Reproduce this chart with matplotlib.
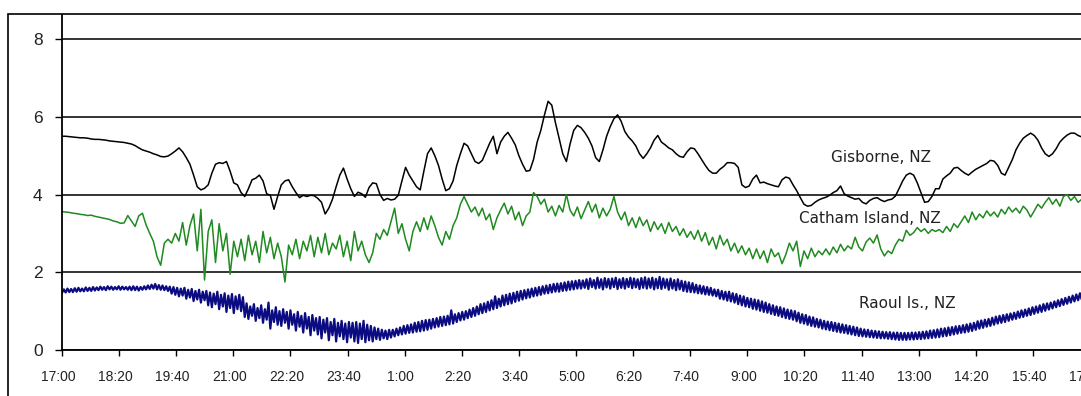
import numpy as np
import matplotlib.pyplot as plt
from matplotlib.patches import Rectangle
from matplotlib.transforms import ScaledTranslation

# sea level records (m), one sample every 5.12 min from 17:00
step_min = 5.12

gisborne = [
    5.50, 5.50, 5.49, 5.48, 5.47, 5.46, 5.46, 5.45, 5.43, 5.42,
    5.42, 5.41, 5.40, 5.38, 5.37, 5.36, 5.35, 5.34, 5.32, 5.30,
    5.26, 5.20, 5.15, 5.12, 5.09, 5.05, 5.02, 4.98, 4.97, 4.99,
    5.05, 5.12, 5.20, 5.10, 4.95, 4.78, 4.50, 4.20, 4.12, 4.16,
    4.25, 4.55, 4.78, 4.82, 4.80, 4.85, 4.60, 4.30, 4.25, 4.05,
    3.95, 4.15, 4.38, 4.42, 4.50, 4.35, 4.02, 3.98, 3.62, 3.95,
    4.25, 4.35, 4.38, 4.20, 4.05, 3.92, 3.98, 3.95, 3.98, 3.97,
    3.90, 3.80, 3.50, 3.65, 3.88, 4.20, 4.50, 4.68, 4.40, 4.15,
    3.95, 4.06, 4.02, 3.93, 4.18, 4.30, 4.28, 4.00, 3.85, 3.90,
    3.86, 3.88, 3.98, 4.35, 4.70, 4.50, 4.35, 4.20, 4.12, 4.60,
    5.05, 5.20, 5.00, 4.75, 4.40, 4.10, 4.15, 4.35, 4.75, 5.05,
    5.32, 5.25, 5.05, 4.85, 4.80, 4.88, 5.10, 5.32, 5.50, 5.05,
    5.35, 5.50, 5.60, 5.45, 5.28, 5.00, 4.78, 4.60, 4.62, 4.90,
    5.35, 5.65, 6.05, 6.40, 6.30, 5.85, 5.45, 5.05, 4.85, 5.30,
    5.65, 5.78, 5.72, 5.60, 5.45, 5.25, 4.95, 4.85, 5.15, 5.50,
    5.75, 5.95, 6.05, 5.88, 5.62, 5.48, 5.38, 5.25, 5.05, 4.93,
    5.05, 5.20, 5.40, 5.52, 5.35, 5.28, 5.20, 5.15, 5.05, 4.98,
    4.96, 5.10, 5.20, 5.18, 5.05, 4.90, 4.75, 4.62, 4.55, 4.55,
    4.65, 4.72, 4.82, 4.82, 4.80, 4.70, 4.25, 4.18, 4.22, 4.40,
    4.50, 4.30, 4.32, 4.28, 4.25, 4.22, 4.20, 4.38, 4.45, 4.42,
    4.25, 4.10, 3.92, 3.75, 3.70, 3.72, 3.80, 3.86, 3.90, 3.93,
    3.98, 4.05, 4.10, 4.22, 4.02, 3.96, 3.92, 3.88, 3.90, 3.80,
    3.76, 3.85, 3.90, 3.92, 3.86, 3.82, 3.86, 3.88, 3.96, 4.15,
    4.35, 4.50, 4.55, 4.50, 4.30, 4.05, 3.80, 3.82, 3.95, 4.15,
    4.15, 4.40, 4.48, 4.55, 4.68, 4.70, 4.62, 4.55, 4.50, 4.58,
    4.65, 4.70, 4.75, 4.80, 4.88, 4.86, 4.75, 4.55, 4.50, 4.70,
    4.90, 5.15, 5.32, 5.45, 5.52, 5.58, 5.52, 5.40, 5.20, 5.05,
    4.98, 5.05, 5.18, 5.35, 5.45, 5.53, 5.58, 5.58, 5.52, 5.48,
    5.45,
]

chatham = [
    3.56, 3.55, 3.54, 3.52, 3.51, 3.49, 3.48, 3.46, 3.47, 3.44,
    3.42, 3.40, 3.38, 3.36, 3.32, 3.30, 3.26, 3.27, 3.46, 3.32,
    3.18, 3.45, 3.52, 3.22, 3.00, 2.80, 2.40, 2.18, 2.75, 2.85,
    2.75, 3.00, 2.80, 3.28, 2.70, 3.20, 3.50, 2.55, 3.62, 1.80,
    3.05, 3.35, 2.25, 3.25, 2.55, 3.00, 1.95, 2.80, 2.40, 2.85,
    2.30, 2.95, 2.45, 2.80, 2.25, 3.05, 2.50, 2.90, 2.35, 2.75,
    2.40, 1.75, 2.70, 2.45, 2.85, 2.35, 2.80, 2.55, 2.95, 2.40,
    2.90, 2.50, 3.00, 2.45, 2.75, 2.60, 2.95, 2.40, 2.80, 2.30,
    3.05, 2.55, 2.80, 2.45, 2.25, 2.50, 3.00, 2.85, 3.10, 2.95,
    3.30, 3.65, 3.00, 3.25, 2.85, 2.55, 3.05, 3.30, 3.05, 3.40,
    3.10, 3.45, 3.20, 2.90, 2.70, 3.05, 2.85, 3.20, 3.40, 3.75,
    3.95, 3.75, 3.55, 3.68, 3.45, 3.65, 3.35, 3.50, 3.10, 3.40,
    3.60, 3.78, 3.50, 3.70, 3.35, 3.55, 3.20, 3.45, 3.55, 4.05,
    3.95, 3.75, 3.88, 3.55, 3.70, 3.45, 3.72, 3.55, 4.00, 3.60,
    3.45, 3.68, 3.38, 3.60, 3.82, 3.55, 3.75, 3.40, 3.65, 3.45,
    3.62, 3.95, 3.55, 3.35, 3.55, 3.20, 3.40, 3.15, 3.42, 3.20,
    3.35, 3.05, 3.30, 3.10, 3.25, 3.00, 3.28, 3.05, 3.18, 2.95,
    3.12, 2.90, 3.05, 2.85, 3.08, 2.80, 3.02, 2.70, 2.90, 2.60,
    2.95, 2.70, 2.85, 2.55, 2.75, 2.50, 2.68, 2.45, 2.62, 2.35,
    2.60, 2.35, 2.55, 2.25, 2.60, 2.40, 2.50, 2.22, 2.45, 2.75,
    2.55, 2.80, 2.15, 2.55, 2.35, 2.62, 2.40, 2.55, 2.45, 2.60,
    2.45, 2.65, 2.50, 2.72, 2.55, 2.68, 2.60, 2.90, 2.65, 2.55,
    2.78, 2.88, 2.75, 2.96, 2.60, 2.42, 2.55, 2.48, 2.70, 2.85,
    2.80, 3.08, 2.95, 3.02, 3.15, 3.05, 3.12, 3.00, 3.10, 3.05,
    3.10, 3.02, 3.18, 3.05, 3.25, 3.15, 3.30, 3.45, 3.28, 3.55,
    3.35, 3.50, 3.40, 3.58, 3.45, 3.55, 3.42, 3.62, 3.50, 3.68,
    3.55, 3.65, 3.52, 3.70, 3.60, 3.42, 3.58, 3.75, 3.65, 3.80,
    3.92, 3.75, 3.88, 3.70, 3.95, 4.00, 3.85, 3.95, 3.80, 3.88,
    3.85,
]

# Raoul Is. is noisy: low / high reading inside each sample window
raoul_lo = [
    1.47, 1.48, 1.49, 1.49, 1.50, 1.51, 1.51, 1.52, 1.52, 1.53,
    1.54, 1.55, 1.54, 1.56, 1.55, 1.56, 1.55, 1.56, 1.55, 1.54,
    1.54, 1.53, 1.55, 1.56, 1.57, 1.58, 1.56, 1.55, 1.54, 1.52,
    1.45, 1.42, 1.38, 1.40, 1.32, 1.35, 1.26, 1.30, 1.22, 1.28,
    1.15, 1.10, 1.18, 1.05, 1.12, 0.98, 1.08, 0.95, 1.05, 1.00,
    0.85, 0.80, 0.88, 0.75, 0.82, 0.70, 0.78, 0.55, 0.72, 0.65,
    0.62, 0.70, 0.55, 0.65, 0.50, 0.60, 0.45, 0.55, 0.38, 0.50,
    0.40, 0.30, 0.45, 0.25, 0.38, 0.22, 0.35, 0.28, 0.20, 0.32,
    0.22, 0.18, 0.28, 0.20, 0.25, 0.22, 0.28, 0.26, 0.30, 0.28,
    0.32, 0.35, 0.38, 0.40, 0.42, 0.44, 0.45, 0.47, 0.48, 0.50,
    0.52, 0.55, 0.58, 0.60, 0.62, 0.64, 0.66, 0.68, 0.72, 0.76,
    0.78, 0.82, 0.85, 0.88, 0.92, 0.95, 0.98, 1.02, 1.05, 1.08,
    1.12, 1.15, 1.18, 1.20, 1.24, 1.27, 1.30, 1.33, 1.35, 1.38,
    1.40, 1.42, 1.45, 1.46, 1.48, 1.50, 1.50, 1.52, 1.53, 1.55,
    1.56, 1.58, 1.58, 1.60, 1.57, 1.62, 1.58, 1.60, 1.56, 1.61,
    1.58, 1.62, 1.57, 1.60, 1.58, 1.62, 1.59, 1.61, 1.57, 1.60,
    1.58, 1.60, 1.56, 1.59, 1.57, 1.60, 1.55, 1.58, 1.54, 1.56,
    1.52, 1.50, 1.49, 1.48, 1.46, 1.45, 1.43, 1.42, 1.40, 1.38,
    1.32, 1.30, 1.27, 1.25, 1.22, 1.18, 1.15, 1.12, 1.10, 1.06,
    1.04, 1.01, 0.98, 0.96, 0.93, 0.90, 0.88, 0.85, 0.82, 0.80,
    0.78, 0.74, 0.70, 0.68, 0.65, 0.62, 0.60, 0.58, 0.55, 0.53,
    0.51, 0.49, 0.47, 0.45, 0.44, 0.42, 0.40, 0.38, 0.36, 0.35,
    0.34, 0.33, 0.32, 0.31, 0.30, 0.30, 0.29, 0.28, 0.27, 0.26,
    0.26, 0.26, 0.27, 0.27, 0.28, 0.28, 0.29, 0.30, 0.31, 0.32,
    0.33, 0.35, 0.36, 0.38, 0.40, 0.42, 0.44, 0.45, 0.47, 0.49,
    0.52, 0.55, 0.57, 0.60, 0.62, 0.65, 0.68, 0.70, 0.72, 0.75,
    0.78, 0.80, 0.83, 0.85, 0.88, 0.90, 0.93, 0.96, 0.98, 1.01,
    1.04, 1.07, 1.10, 1.13, 1.16, 1.19, 1.22, 1.25, 1.28, 1.30,
    1.32,
]

raoul_hi = [
    1.56, 1.58, 1.57, 1.59, 1.60, 1.58, 1.61, 1.60, 1.62, 1.61,
    1.63, 1.62, 1.64, 1.63, 1.62, 1.64, 1.63, 1.62, 1.63, 1.64,
    1.63, 1.62, 1.64, 1.66, 1.68, 1.70, 1.67, 1.66, 1.64, 1.63,
    1.62, 1.60, 1.58, 1.60, 1.55, 1.57, 1.52, 1.55, 1.50, 1.52,
    1.48, 1.45, 1.50, 1.42, 1.46, 1.40, 1.44, 1.38, 1.42, 1.36,
    1.20, 1.12, 1.18, 1.08, 1.15, 1.05, 1.22, 1.02, 1.10, 1.00,
    1.05, 0.98, 1.02, 0.92, 0.98, 0.88, 0.95, 0.85, 0.90, 0.82,
    0.85, 0.78, 0.82, 0.72, 0.80, 0.70, 0.75, 0.68, 0.72, 0.70,
    0.72, 0.68, 0.75, 0.65, 0.62, 0.58, 0.55, 0.52, 0.50, 0.52,
    0.52, 0.55, 0.58, 0.62, 0.64, 0.66, 0.70, 0.72, 0.75, 0.77,
    0.78, 0.80, 0.82, 0.85, 0.86, 0.88, 1.02, 0.92, 0.95, 0.98,
    1.00, 1.04, 1.08, 1.12, 1.18, 1.20, 1.24, 1.28, 1.38, 1.32,
    1.40, 1.42, 1.45, 1.47, 1.50, 1.52, 1.54, 1.56, 1.58, 1.60,
    1.62, 1.64, 1.66, 1.68, 1.70, 1.71, 1.72, 1.74, 1.76, 1.77,
    1.78, 1.80, 1.79, 1.82, 1.84, 1.80, 1.86, 1.82, 1.85, 1.83,
    1.84, 1.86, 1.82, 1.85, 1.83, 1.86, 1.84, 1.82, 1.85, 1.87,
    1.84, 1.86, 1.83, 1.88, 1.84, 1.82, 1.84, 1.80, 1.82, 1.78,
    1.76, 1.74, 1.72, 1.68, 1.66, 1.64, 1.62, 1.60, 1.56, 1.55,
    1.52, 1.50, 1.50, 1.46, 1.44, 1.40, 1.38, 1.34, 1.32, 1.30,
    1.28, 1.25, 1.22, 1.18, 1.15, 1.12, 1.10, 1.07, 1.04, 1.02,
    1.00, 0.96, 0.92, 0.90, 0.86, 0.84, 0.80, 0.78, 0.75, 0.73,
    0.72, 0.70, 0.68, 0.66, 0.64, 0.62, 0.60, 0.58, 0.55, 0.53,
    0.52, 0.50, 0.49, 0.48, 0.47, 0.46, 0.46, 0.45, 0.45, 0.44,
    0.44, 0.44, 0.45, 0.45, 0.46, 0.47, 0.48, 0.50, 0.51, 0.53,
    0.55, 0.56, 0.58, 0.59, 0.61, 0.62, 0.64, 0.66, 0.68, 0.70,
    0.74, 0.76, 0.78, 0.80, 0.83, 0.86, 0.88, 0.90, 0.92, 0.94,
    0.96, 0.99, 1.02, 1.04, 1.07, 1.10, 1.12, 1.15, 1.18, 1.20,
    1.22, 1.25, 1.28, 1.31, 1.34, 1.37, 1.40, 1.43, 1.46, 1.48,
    1.50,
]

tick_labels = ["17:00", "18:20", "19:40", "21:00", "22:20", "23:40",
               "1:00", "2:20", "3:40", "5:00", "6:20", "7:40", "9:00",
               "10:20", "11:40", "13:00", "14:20", "15:40", "17:00"]
tick_step = 80  # minutes between labels

t = np.arange(len(gisborne)) * step_min
# low/high pairs drawn as a zigzag so the trace looks like the raw record
t_raoul = np.column_stack([t, t + step_min / 2]).ravel()
v_raoul = np.column_stack([raoul_lo, raoul_hi]).ravel()

fig = plt.figure(figsize=(10.81, 3.96), dpi=100)
ax = fig.add_axes([0.05735, 0.11616, 0.95097, 0.84596])

ax.plot(t, gisborne, color="black", lw=1.1)
ax.plot(t, chatham, color="#1f8a1f", lw=1.1)
ax.plot(t_raoul, v_raoul, color="#0c0c82", lw=1.6)

ax.set_xlim(0, tick_step * (len(tick_labels) - 1))
ax.set_ylim(0, 8.62)
ax.set_xticks(np.arange(len(tick_labels)) * tick_step)
ax.set_xticklabels(tick_labels, fontsize=10, family="Liberation Sans", color="#222222")
ax.set_yticks([0, 2, 4, 6, 8])
ax.set_yticklabels(["0", "2", "4", "6", "8"], fontsize=12.5,
                   family="Liberation Sans", color="#222222")
ax.tick_params(axis="y", length=5, width=1.0, pad=9, direction="out")
ax.tick_params(axis="x", length=4.5, width=1.0, pad=10, direction="out")

# time labels sit a few pixels left of their ticks
shift = ScaledTranslation(-4 / 100, 0, fig.dpi_scale_trans)
for lbl in ax.get_xticklabels():
    lbl.set_transform(lbl.get_transform() + shift)

ax.yaxis.grid(True, color="#111111", lw=1.2)
ax.set_axisbelow(True)
for side in ["top", "right"]:
    ax.spines[side].set_visible(False)
ax.spines["left"].set_linewidth(1.3)
ax.spines["bottom"].set_linewidth(1.3)

ax.text(1147, 4.96, "Gisborne, NZ", fontsize=11, ha="center", va="center", color="#222222")
ax.text(1132, 3.38, "Catham Island, NZ", fontsize=11, ha="center", va="center", color="#222222")
ax.text(1184, 1.20, "Raoul Is., NZ", fontsize=11, ha="center", va="center", color="#222222")

# chart frame
fig.patches.append(Rectangle((8 / 1081, -0.1), 1.2, (396 - 14) / 396 + 0.1,
                             transform=fig.transFigure, fill=False,
                             edgecolor="black", lw=1.2))

plt.savefig("out.png", dpi=100)
plt.close()
